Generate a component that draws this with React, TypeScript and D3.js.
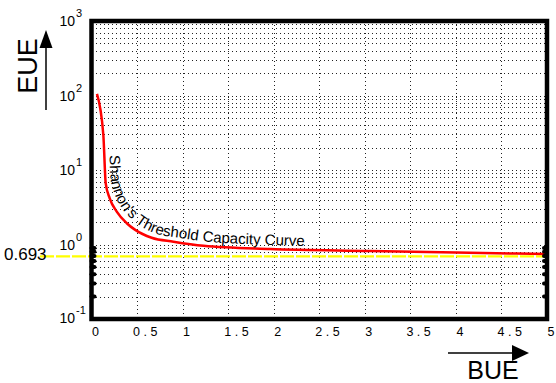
import React from 'react';
import * as d3 from 'd3';

// values
const bueValues = [0.06, 0.13, 0.156, 0.2, 0.277, 0.387, 0.48, 0.66, 0.9, 1.23, 1.96, 3.06, 4.0, 5.0];
const eueValues = [105, 29.5, 6.6, 4.17, 2.76, 1.93, 1.57, 1.23, 1.09, 0.96, 0.87, 0.82, 0.78, 0.745];
const xTicks = [0, 0.5, 1, 1.5, 2, 2.5, 3, 3.5, 4, 4.5, 5];
const xTickLabels = ['0', '0.5', '1', '1.5', '2', '2.5', '3', '3.5', '4', '4.5', '5'];
const yDecades = [-1, 0, 1, 2, 3];
const thresholdValue = 0.693;
const thresholdLabel = '0.693';
const curveLabel = "Shannon's Threshold Capacity Curve";

const W = 556;
const H = 383;
const plot = { left: 91.5, right: 547, top: 21, bottom: 319 };
const FONT = '"Liberation Sans", Arial, Helvetica, sans-serif';

const App: React.FC = () => {
  const x = d3.scaleLinear().domain([0, 5]).range([plot.left, plot.right]);
  const y = d3.scaleLog().domain([0.1, 1000]).range([plot.bottom, plot.top]);

  const points = bueValues.map((b, i) => ({ bue: b, eue: eueValues[i] }));

  const line = d3.line<{ bue: number; eue: number }>()
    .x(d => x(d.bue))
    .y(d => y(d.eue))
    .curve(d3.curveMonotoneX);

  // text path follows the curve, shifted to its outer side
  const textLine = d3.line<{ bue: number; eue: number }>()
    .x(d => x(d.bue) + 5)
    .y(d => y(d.eue) - 4)
    .curve(d3.curveMonotoneX);

  // minor grid values for every decade
  const minors: number[] = [];
  yDecades.slice(0, -1).forEach(e => {
    for (let k = 2; k <= 9; k++) minors.push(k * Math.pow(10, e));
  });
  const lowDecadeMinors = minors.filter(v => v < 1);
  const px = (v: number) => Math.round(v) + 0.5;

  return (
    <div style={{ position: 'absolute', left: 0, top: 0 }}>
      <svg width={W} height={H} style={{ display: 'block', background: '#fff' }} fontFamily={FONT}>
        <defs>
          <path id="curve-text-path" d={textLine(points) || ''} fill="none" />
        </defs>

        {/* grid */}
        <g stroke="#222" strokeWidth={1} strokeDasharray="1,3" shapeRendering="crispEdges">
          {minors.map(v => (
            <line key={`mg-${v}`} x1={plot.left} x2={plot.right} y1={px(y(v))} y2={px(y(v))} />
          ))}
          {yDecades.map(e => (
            <line key={`g-${e}`} x1={plot.left} x2={plot.right} y1={px(y(Math.pow(10, e)))} y2={px(y(Math.pow(10, e)))} />
          ))}
          {xTicks.map(t => (
            <line key={`vg-${t}`} x1={px(x(t))} x2={px(x(t))} y1={plot.top} y2={plot.bottom} />
          ))}
        </g>

        {/* threshold line */}
        <line x1={40} x2={plot.right} y1={y(thresholdValue)} y2={y(thresholdValue)}
          stroke="#ffff00" strokeWidth={2.2} strokeDasharray="14,2" />
        <text x={4} y={y(thresholdValue) + 4} fontSize={17} fill="#000">{thresholdLabel}</text>

        {/* capacity curve */}
        <path d={line(points) || ''} fill="none" stroke="#ff0000" strokeWidth={2.5} />
        <text fontSize={15} fill="#000">
          <textPath href="#curve-text-path" startOffset={66}>{curveLabel}</textPath>
        </text>

        {/* frame */}
        <rect x={plot.left} y={plot.top} width={plot.right - plot.left} height={plot.bottom - plot.top}
          fill="none" stroke="#000" strokeWidth={4.5} />
        {lowDecadeMinors.map(v => (
          <g key={`blob-${v}`}>
            <line x1={plot.left} x2={plot.left + 3} y1={y(v)} y2={y(v)} stroke="#000" strokeWidth={4} strokeLinecap="round" />
            <line x1={plot.right} x2={plot.right - 3} y1={y(v)} y2={y(v)} stroke="#000" strokeWidth={4} strokeLinecap="round" />
          </g>
        ))}

        {/* y tick labels */}
        {yDecades.map(e => {
          const yy = y(Math.pow(10, e));
          const base = e === -1 ? yy + 4 : yy + 5;
          return (
            <g key={`yl-${e}`} fill="#000">
              <text x={75} y={base} fontSize={14} textAnchor="end">10</text>
              <text x={76} y={base - 9} fontSize={11}>{e < 0 ? `-${-e}` : `${e}`}</text>
            </g>
          );
        })}

        {/* x tick labels */}
        {xTicks.map((t, i) => {
          const label = xTickLabels[i];
          const decimal = label.includes('.');
          return (
            <text key={`xl-${t}`} x={x(t) + (decimal ? 10 : 4)} y={336} fontSize={12.5}
              textAnchor="middle" letterSpacing={decimal ? 3.5 : 0} fill="#000">{label}</text>
          );
        })}

        {/* EUE axis title with arrow */}
        <text transform="translate(37,66) rotate(-90)" fontSize={27} textAnchor="middle" fill="#000">EUE</text>
        <line x1={46} x2={46} y1={110} y2={46} stroke="#000" strokeWidth={1.5} />
        <path d="M46,30 L39.5,48 L52.5,48 Z" fill="#000" />

        {/* BUE axis title with arrow */}
        <text x={493} y={379} fontSize={25} textAnchor="middle" fill="#000">BUE</text>
        <line x1={448} x2={514} y1={353} y2={353} stroke="#000" strokeWidth={1.5} />
        <path d="M529,353 L512,345 L512,361 Z" fill="#000" />
      </svg>
    </div>
  );
};

export default App;
